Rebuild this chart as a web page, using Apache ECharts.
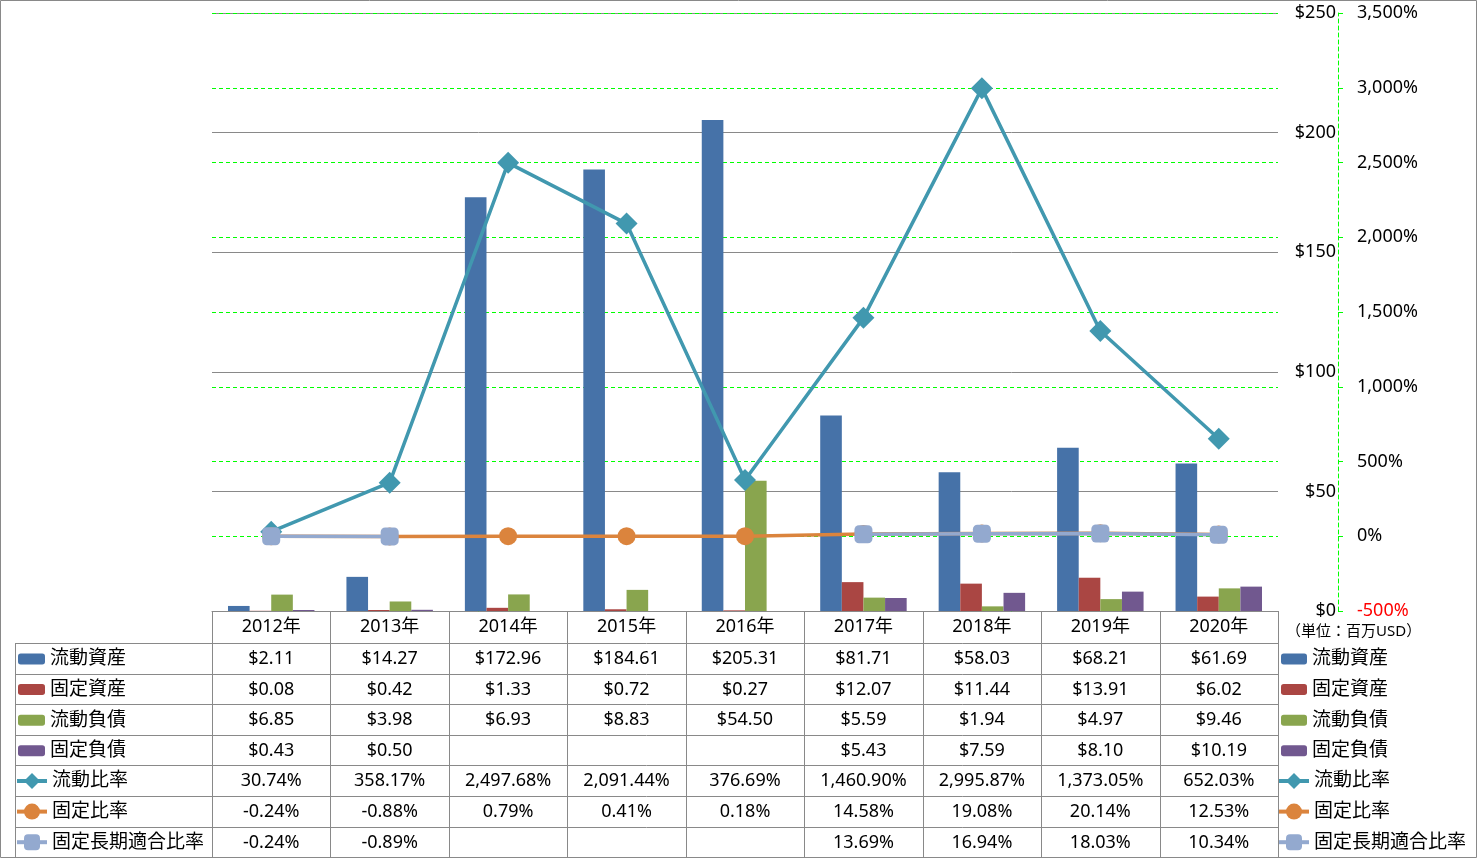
<!DOCTYPE html>
<html><head><meta charset="utf-8">
<script src="https://cdn.jsdelivr.net/npm/echarts@6/dist/echarts.min.js"></script>
<style>html,body{margin:0;padding:0;background:#fff}#c{width:1477px;height:858px}</style>
</head><body><div id="c"></div>
<script>
// ---- data ----
const years = ['2012年','2013年','2014年','2015年','2016年','2017年','2018年','2019年','2020年'];
const currentAssets = [2.11,14.27,172.96,184.61,205.31,81.71,58.03,68.21,61.69];
const fixedAssets = [0.08,0.42,1.33,0.72,0.27,12.07,11.44,13.91,6.02];
const currentLiab = [6.85,3.98,6.93,8.83,54.50,5.59,1.94,4.97,9.46];
const fixedLiab = [0.43,0.50,null,null,null,5.43,7.59,8.10,10.19];
const currentRatio = [30.74,358.17,2497.68,2091.44,376.69,1460.90,2995.87,1373.05,652.03];
const fixedRatio = [-0.24,-0.88,0.79,0.41,0.18,14.58,19.08,20.14,12.53];
const fixedLongRatio = [-0.24,-0.89,null,null,null,13.69,16.94,18.03,10.34];
const barNames = ['流動資産','固定資産','流動負債','固定負債'];
const lineNames = ['流動比率','固定比率','固定長期適合比率'];
const moneyAxis = {min:0, max:250, interval:50};
const pctAxis = {min:-500, max:3500, interval:500};
const unitLabel = '（単位：百万USD）';

const FONT = '"Noto Sans", "Noto Sans CJK JP", sans-serif';
const colors = ['#4672A8','#AA4643','#89A54E','#71588F','#4198AF','#DB843D','#93A9CF'];
const GRAY = '#898989';

const chart = echarts.init(document.getElementById('c'), null, {renderer:'canvas'});

const barData = [currentAssets, fixedAssets, currentLiab, fixedLiab];
const lineData = [currentRatio, fixedRatio, fixedLongRatio];
const lineSymbols = ['diamond','circle','roundRect'];
const lineSymbolSize = [22,18,18];

const series = [];
barNames.forEach((n,i)=>series.push({
  name:n, type:'bar', yAxisIndex:0, data:barData[i],
  barGap:'0%', barCategoryGap:'27%',
  itemStyle:{color:colors[i]}
}));
lineNames.forEach((n,i)=>series.push({
  name:n, type:'line', yAxisIndex:1, data:lineData[i],
  symbol:lineSymbols[i], symbolSize:lineSymbolSize[i], showAllSymbol:true,
  connectNulls:false,
  lineStyle:{width:3.5, color:colors[4+i]},
  itemStyle:{color:colors[4+i], opacity:1},
  z: 3+i
}));

function fmtPct(v){return v.toLocaleString('en-US')+'%';}

const legendCommon = {orient:'vertical', padding:0, itemGap:10.6,
  textStyle:{fontSize:19, color:'#000', fontFamily:FONT, lineHeight:20}, selectedMode:false};
const lineLegend = Object.assign({}, legendCommon, {lineStyle:{width:4}});

chart.setOption({
  animation:false,
  textStyle:{fontFamily:FONT},
  grid:{left:212, right:199, top:13, bottom:247, containLabel:false},
  xAxis:{type:'category', data:years, boundaryGap:true,
    axisLine:{show:true, lineStyle:{color:GRAY, width:1}},
    axisTick:{show:false},
    axisLabel:{fontSize:18, color:'#000', margin:7, fontFamily:FONT, interval:0},
    splitLine:{show:false}},
  yAxis:[
    {type:'value', position:'right', min:moneyAxis.min, max:moneyAxis.max, interval:moneyAxis.interval,
     axisLine:{show:false}, axisTick:{show:false},
     axisLabel:{align:'right', margin:58, fontSize:18, color:'#000', fontFamily:FONT, formatter:v=>'$'+v},
     splitLine:{show:true, lineStyle:{color:GRAY, width:1}}},
    {type:'value', position:'right', offset:60, min:pctAxis.min, max:pctAxis.max, interval:pctAxis.interval,
     axisLine:{show:true, lineStyle:{color:'#00FF00', type:[4,3], width:1}},
     axisTick:{show:true, length:5, lineStyle:{color:'#00FF00', width:1}},
     axisLabel:{margin:19, fontSize:18, fontFamily:FONT, formatter:fmtPct,
       color:(v)=> (Number(v) < 0 ? '#FF0000' : '#000')},
     splitLine:{show:true, lineStyle:{color:'#00FF00', type:[4,3], width:1}}}
  ],
  legend:[
    Object.assign({left:18, top:649, data:barNames, itemWidth:27, itemHeight:11}, legendCommon),
    Object.assign({left:15, top:771, data:lineNames, itemWidth:30, itemHeight:20}, lineLegend),
    Object.assign({left:1281, top:649, data:barNames, itemWidth:26, itemHeight:11}, legendCommon),
    Object.assign({left:1277, top:771, data:lineNames, itemWidth:30, itemHeight:20}, lineLegend)
  ],
  series:series
});

// ---- data table drawn from the axis scale ----
function buildTable(){
  const c0 = chart.convertToPixel({xAxisIndex:0}, 0);
  const c1 = chart.convertToPixel({xAxisIndex:0}, 1);
  const band = c1 - c0;
  const yBase = chart.convertToPixel({yAxisIndex:0}, 0);
  const headerH = 32, rowH = 30.6;
  const leftX = 15;
  const xStart = c0 - band/2, xEnd = xStart + band*years.length;
  const nRows = 7;
  const rowsTop = yBase + headerH;
  const bottom = rowsTop + rowH*nRows;
  const els = [];
  const ls = {stroke:GRAY, lineWidth:1};
  els.push({type:'rect', shape:{x:0.5,y:0.5,width:1476,height:857}, style:{fill:'none', stroke:GRAY, lineWidth:1}, silent:true});
  for(let r=0;r<=nRows;r++){
    const y = Math.round(rowsTop + r*rowH)+0.5;
    els.push({type:'line', shape:{x1:leftX, y1:y, x2:xEnd, y2:y}, style:ls, silent:true});
  }
  els.push({type:'line', shape:{x1:leftX+0.5, y1:rowsTop, x2:leftX+0.5, y2:bottom}, style:ls, silent:true});
  for(let i=0;i<=years.length;i++){
    const x = Math.round(xStart + band*i)+0.5;
    els.push({type:'line', shape:{x1:x, y1:yBase, x2:x, y2:bottom}, style:ls, silent:true});
  }
  const money = v=>v==null?'':'$'+v.toFixed(2);
  const pct = v=>v==null?'':v.toLocaleString('en-US',{minimumFractionDigits:2,maximumFractionDigits:2})+'%';
  const rows = [
    barData[0].map(money), barData[1].map(money), barData[2].map(money), barData[3].map(money),
    lineData[0].map(pct), lineData[1].map(pct), lineData[2].map(pct)
  ];
  rows.forEach((row,r)=>{
    row.forEach((t,i)=>{
      const cx = chart.convertToPixel({xAxisIndex:0}, i);
      els.push({type:'text', x:cx, y:rowsTop + r*rowH + rowH/2 + 0.5,
        style:{text:t, fontSize:18, fontFamily:FONT, fill:'#000', align:'center', verticalAlign:'middle'}, silent:true});
    });
  });
  els.push({type:'text', x:1286, y:632, style:{text:unitLabel, fontSize:15, fontFamily:FONT, fill:'#000', align:'left', verticalAlign:'middle'}, silent:true});
  chart.setOption({graphic:{elements:els}});
}
buildTable();
</script>
</body></html>
